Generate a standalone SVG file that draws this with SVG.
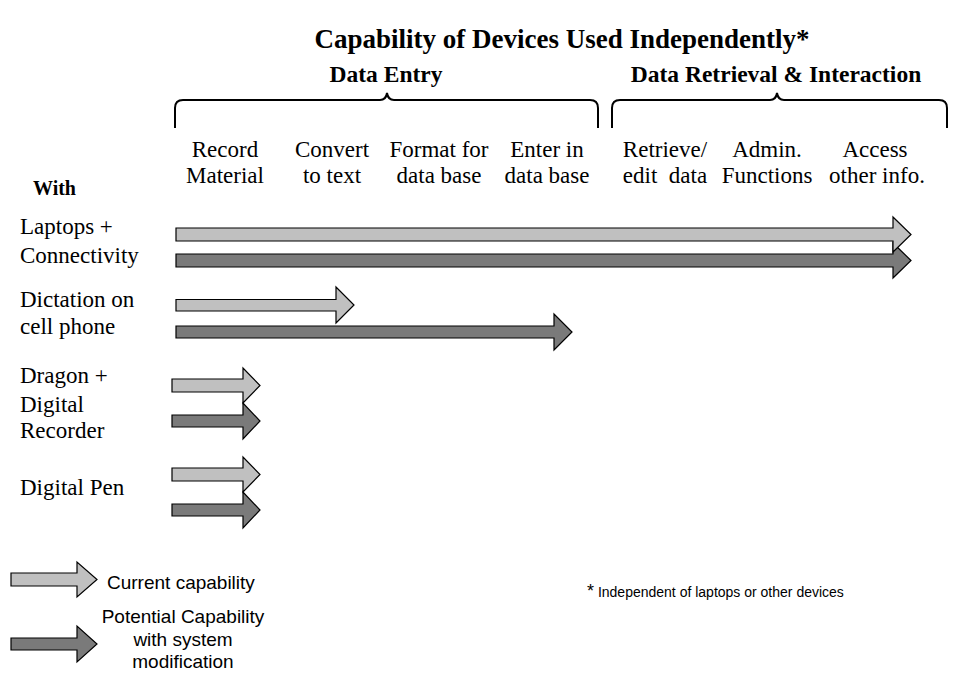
<svg xmlns="http://www.w3.org/2000/svg" width="959" height="675" viewBox="0 0 959 675">
<style>
.t{font-family:"Liberation Serif","Times New Roman",serif;font-size:23px;fill:#000}
.tb{font-family:"Liberation Serif","Times New Roman",serif;font-weight:bold;fill:#000}
.l{font-family:"Liberation Serif","Times New Roman",serif;font-size:23px;fill:#000}
.s{font-family:"Liberation Sans",Arial,sans-serif;font-size:19px;fill:#000}
.fn{font-family:"Liberation Sans",Arial,sans-serif;font-size:14px;fill:#000}
.c{text-anchor:middle}
.br{fill:none;stroke:#000;stroke-width:2}
.lt{fill:#c0c0c0;stroke:#000;stroke-width:1.2}
.dk{fill:#7a7a7a;stroke:#000;stroke-width:1.2}
</style>
<rect width="959" height="675" fill="#fff"/>
<g id="title">
<text class="tb c" x="562" y="48" style="font-size:27px">Capability of Devices Used Independently*</text>
</g>
<g id="data-entry">
<text class="tb c" x="386" y="82" style="font-size:23.5px">Data Entry</text>
<path class="br" d="M175,128 V108 Q175,100 183,100 H380 Q386,100 387,93 Q388,100 394,100 H590 Q598,100 598,108 V128"/>
</g>
<g id="data-retrieval">
<text class="tb c" x="776" y="82" style="font-size:23.5px">Data Retrieval &amp; Interaction</text>
<path class="br" d="M612,128 V108 Q612,100 620,100 H770 Q776,100 777,93 Q778,100 784,100 H939 Q947,100 947,108 V128"/>
</g>
<g id="columns">
<text class="t c" x="225" y="157">Record</text><text class="t c" x="225" y="183">Material</text>
<text class="t c" x="332" y="157">Convert</text><text class="t c" x="332" y="183">to text</text>
<text class="t c" x="439" y="157">Format for</text><text class="t c" x="439" y="183">data base</text>
<text class="t c" x="547" y="157">Enter in</text><text class="t c" x="547" y="183">data base</text>
<text class="t c" x="665" y="157">Retrieve/</text><text class="t c" x="665" y="183" xml:space="preserve">edit  data</text>
<text class="t c" x="767" y="157">Admin.</text><text class="t c" x="767" y="183">Functions</text>
<text class="t c" x="875" y="157">Access</text><text class="t c" x="877" y="183">other info.</text>
</g>
<g id="row-labels">
<text class="tb" x="33" y="195" style="font-size:20px">With</text>
<text class="l" x="20" y="234">Laptops +</text><text class="l" x="20" y="263">Connectivity</text>
<text class="l" x="20" y="307">Dictation on</text><text class="l" x="20" y="334">cell phone</text>
<text class="l" x="20" y="383">Dragon +</text><text class="l" x="20" y="412">Digital</text><text class="l" x="20" y="438">Recorder</text>
<text class="l" x="20" y="495">Digital Pen</text>
</g>
<g id="connectors">
<polygon class="dk" points="176,254 893,254 893,243 911,260.5 893,278 893,267 176,267"/>
<polygon class="lt" points="176,228 893,228 893,217 911,234.5 893,252 893,241 176,241"/>
<polygon class="dk" points="176,326 554,326 554,314 572,332 554,350 554,338 176,338"/>
<polygon class="lt" points="176,299.5 336,299.5 336,287 354,305 336,323 336,311 176,311"/>
<polygon class="dk" points="172,415 243,415 243,403 260,421 243,439 243,427 172,427"/>
<polygon class="lt" points="172,379 243,379 243,368 260,385.5 243,403 243,392 172,392"/>
<polygon class="dk" points="172,504 243,504 243,492 260,510 243,528 243,516 172,516"/>
<polygon class="lt" points="172,468 243,468 243,457 260,474.5 243,492 243,481 172,481"/>
</g>
<g id="legend">
<polygon class="lt" points="11,573 77,573 77,562 97,579.5 77,597 77,586 11,586"/>
<text class="s" x="107" y="589">Current capability</text>
<polygon class="dk" points="11,638 77,638 77,626 97,644 77,662 77,650 11,650"/>
<text class="s c" x="183" y="623">Potential Capability</text>
<text class="s c" x="183" y="646">with system</text>
<text class="s c" x="183" y="668">modification</text>
</g>
<g id="footnote">
<text class="fn" x="587" y="597"><tspan style="font-size:18px">*</tspan> Independent of laptops or other devices</text>
</g>
</svg>
